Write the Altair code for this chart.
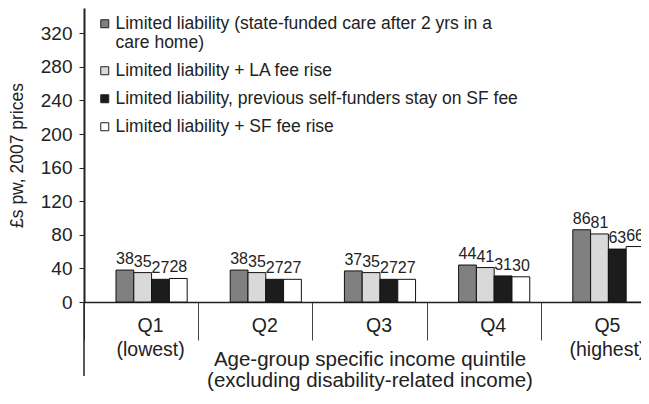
import altair as alt
import pandas as pd

quintiles = ["Q1", "Q2", "Q3", "Q4", "Q5"]
series = [
    "Limited liability (state-funded care after 2 yrs in a|care home)",
    "Limited liability  + LA fee rise",
    "Limited liability, previous self-funders stay on SF fee",
    "Limited liability + SF fee rise",
]
limited = [38, 38, 37, 44, 86]
la_fee_rise = [35, 35, 35, 41, 81]
sf_stay = [27, 27, 27, 31, 63]
sf_fee_rise = [28, 27, 27, 30, 66]
colors = ["#808080", "#d9d9d9", "#1c1c1c", "#ffffff"]

rows = []
for s, vals in zip(series, [limited, la_fee_rise, sf_stay, sf_fee_rise]):
    for q, v in zip(quintiles, vals):
        rows.append({"quintile": q, "series": s, "value": v})
df = pd.DataFrame(rows)

x_enc = alt.X(
    "quintile:N",
    sort=quintiles,
    scale=alt.Scale(paddingInner=0, paddingOuter=0),
    axis=alt.Axis(
        title=["Age-group specific income quintile", "(excluding disability-related income)"],
        labelExpr="datum.value == 'Q1' ? ['Q1', '(lowest)'] : datum.value == 'Q5' ? ['Q5', '(highest)'] : datum.value",
        labelAngle=0,
        tickBand="extent",
        tickSize=38,
        tickColor="#444",
        labelPadding=-24,
        labelOffset=9,
        labelFontSize=19.5,
        labelLineHeight=24,
        labelBaseline="top",
        labelColor="#222",
        domainColor="#222",
        domainWidth=1.5,
        titleFontSize=20.5,
        titleFontWeight="normal",
        titleColor="#222",
        titleLineHeight=21,
        titleBaseline="top",
        titleY=47,
    ),
)
xoff_enc = alt.XOffset(
    "series:N",
    sort=series,
    scale=alt.Scale(domain=["_gap"] + series, paddingInner=0, paddingOuter=0.71, align=0.563),
)
y_enc = alt.Y(
    "value:Q",
    scale=alt.Scale(domain=[0, 350], nice=False),
    axis=alt.Axis(
        values=list(range(0, 321, 40)),
        title="£s pw, 2007 prices",
        grid=False,
        tickSize=5,
        tickColor="#222",
        labelPadding=7,
        labelFontSize=19,
        labelColor="#222",
        domainColor="#222",
        domainWidth=2,
        titleFontSize=17.5,
        titleFontWeight="normal",
        titleColor="#222",
        titlePadding=14,
    ),
)

base = alt.Chart(df).encode(x=x_enc, xOffset=xoff_enc, y=y_enc)

bars = base.mark_bar(stroke="#111", strokeWidth=1).encode(
    color=alt.Color(
        "series:N",
        sort=series,
        scale=alt.Scale(domain=series, range=colors),
        legend=alt.Legend(
            title=None,
            orient="none",
            legendX=12,
            legendY=7,
            padding=0,
            symbolType="square",
            symbolSize=64,
            symbolStrokeColor="#222",
            symbolStrokeWidth=1,
            labelFontSize=17.5,
            labelColor="#222",
            labelOffset=2,
            labelLimit=700,
            rowPadding=9,
            labelExpr="split(datum.label, '|')",
        ),
    )
)

labels = base.mark_text(baseline="bottom", dy=-3, fontSize=16, color="#222").encode(
    text="value:Q"
)

ext = alt.Chart(pd.DataFrame({"k": [0]})).mark_rule(color="#222", strokeWidth=1.5).encode(
    x=alt.value(0), y=alt.value(294), y2=alt.value(368)
)

chart = (
    alt.layer(bars, labels, ext)
    .properties(
        width=571,
        height=294,
        autosize=alt.AutoSizeParams(type="none"),
        padding={"left": 76, "top": 0, "right": -14, "bottom": 90},
    )
    .configure(font="Liberation Sans")
    .configure_view(stroke=None)
)

chart.save("out.html", embed_options={"renderer": "svg", "actions": False})
